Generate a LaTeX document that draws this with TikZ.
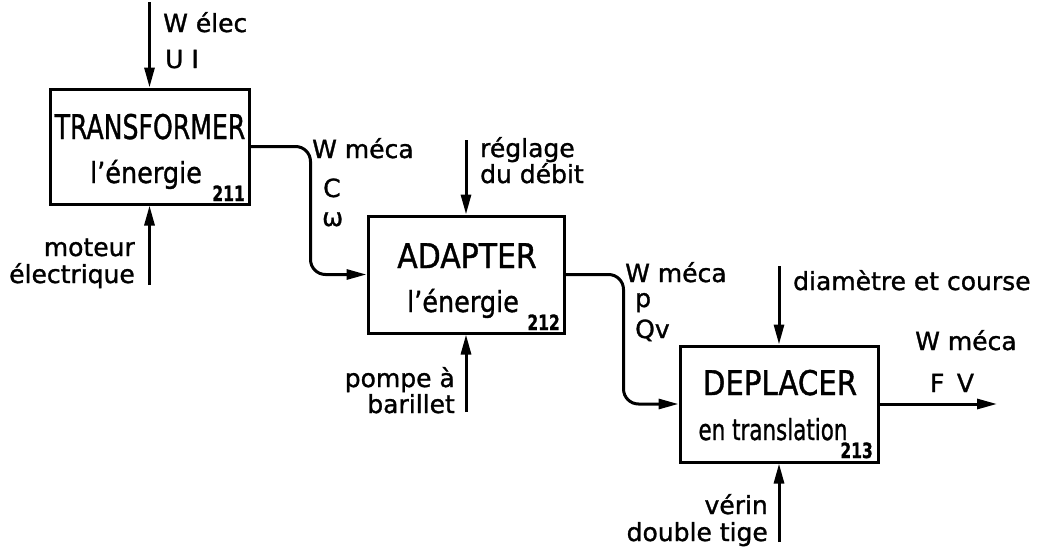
\documentclass[tikz,border=0pt]{standalone}
\usepackage{fontspec}
\setmainfont{DejaVu Sans}[FakeBold=1.2]
\usetikzlibrary{arrows.meta}
\tikzset{
  box/.style={draw, line width=3pt, minimum width=199pt, minimum height=115pt, inner sep=0pt},
  arr/.style={line width=3pt, -{Triangle[length=20pt,width=10pt]}},
  lbl/.style={inner sep=0pt, font=\fontsize{25}{28}\selectfont},
  ttl/.style={inner sep=0pt, anchor=base, font=\fontsize{34}{38}\selectfont},
  sub/.style={inner sep=0pt, anchor=base, font=\fontsize{29}{32}\selectfont},
  num/.style={inner sep=0pt, anchor=base east, font=\bfseries\fontsize{21}{22}\selectfont},
}
\begin{document}
\begin{tikzpicture}[x=1pt,y=-1pt]
\useasboundingbox (0,0) rectangle (1056,549);
% boxes
\node[box] (b1) at (149.5,146.5) {};
\node[box, minimum width=196pt, minimum height=117pt] (b2) at (466,274.5) {};
\node[box, minimum width=198pt, minimum height=116pt] (b3) at (779,404) {};
% box texts
\node[ttl] (t1) at (150,139) {\scalebox{0.74}[1]{TRANSFORMER}};
\node[sub] (s1) at (146,183) {\scalebox{0.88}[1]{l’énergie}};
\node[num] (n1) at (245,201) {\scalebox{0.74}[1]{211}};
\node[ttl] (t2) at (467,268) {\scalebox{0.88}[1]{ADAPTER}};
\node[sub] (s2) at (463,312) {\scalebox{0.88}[1]{l’énergie}};
\node[num] (n2) at (560,330) {\scalebox{0.74}[1]{212}};
\node[ttl] (t3) at (780,395) {\scalebox{0.86}[1]{DEPLACER}};
\node[sub] (s3) at (773,440) {\scalebox{0.74}[1]{en translation}};
\node[num] (n3) at (873,458) {\scalebox{0.74}[1]{213}};
% free ends
\coordinate (in1) at (149.5,2);
\coordinate (sp1) at (149.5,285);
\coordinate (in2) at (466,140);
\coordinate (sp2) at (466,412);
\coordinate (in3) at (779,266);
\coordinate (sp3) at (779,542);
\coordinate (out3) at (997,404);
% connectors
\draw[arr] (in1) -- (b1.north);
\draw[arr] (sp1) -- (b1.south);
\draw[arr] (in2) -- (b2.north);
\draw[arr] (sp2) -- (b2.south);
\draw[arr] (in3) -- (b3.north);
\draw[arr] (sp3) -- (b3.south);
\draw[arr, rounded corners=15pt] (b1.east) -- ++(60,0) |- (b2.west);
\draw[arr, rounded corners=15pt] (b2.east) -- ++(58,0) |- (b3.west);
\draw[arr] (b3.east) -- (out3);
% labels
\node[lbl, anchor=base west] (l1) at (163,32) {W élec};
\node[lbl, anchor=base west] (l2) at (165,68) {U I};
\node[lbl, anchor=base east] (l3) at (135,256) {moteur};
\node[lbl, anchor=base east] (l4) at (135,283) {électrique};
\node[lbl, anchor=base west] (l5) at (312,158) {W méca};
\node[lbl, anchor=base west] (l6) at (323,197) {C};
\node[lbl, anchor=base west] (l7) at (322,226) {ω};
\node[lbl, anchor=base west] (l8) at (480,157) {réglage};
\node[lbl, anchor=base west] (l9) at (480,183) {du débit};
\node[lbl, anchor=base east] (l10) at (455,387) {pompe à};
\node[lbl, anchor=base east] (l11) at (455,413) {barillet};
\node[lbl, anchor=base west] (l12) at (625,282) {W méca};
\node[lbl, anchor=base west] (l13) at (635,307) {p};
\node[lbl, anchor=base west] (l14) at (635,338) {Qv};
\node[lbl, anchor=base west] (l15) at (793,290) {diamètre et course};
\node[lbl, anchor=base west] (l16) at (915,350) {W méca};
\node[lbl, anchor=base] (l17) at (952,392) {F\hspace{0.5em}V};
\node[lbl, anchor=base east] (l18) at (768,514) {vérin};
\node[lbl, anchor=base east] (l19) at (768,541) {double tige};
\end{tikzpicture}
\end{document}
